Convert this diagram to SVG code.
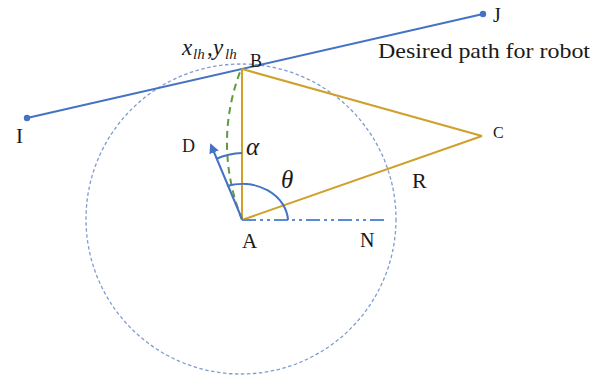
<svg xmlns="http://www.w3.org/2000/svg" width="603" height="376" viewBox="0 0 603 376">
<defs>
<style>
.lbl{font-family:"Liberation Serif","Times New Roman",serif;fill:#1a1a1a}
.it{font-style:italic}
.path{stroke:#4472C4;stroke-width:2;fill:none}
.tri{stroke:#CFA02A;stroke-width:2;fill:none}
.blue{stroke:#4472C4;stroke-width:2;fill:none}
</style>
<marker id="arr" viewBox="0 0 10 10" refX="8" refY="5" markerWidth="5" markerHeight="5" orient="auto-start-reverse" markerUnits="strokeWidth">
<path d="M0,0 L10,5 L0,10 z" fill="#4472C4"/>
</marker>
</defs>
<rect width="603" height="376" fill="#ffffff"/>
<g id="circle">
<circle cx="241" cy="219" r="155" fill="none" stroke="#7F9BD0" stroke-width="1.3" stroke-dasharray="3.5 2.5"/>
</g>
<g id="connectors">
<line class="path" x1="27" y1="118" x2="483" y2="14"/>
<circle cx="27" cy="118" r="3.2" fill="#4472C4"/>
<circle cx="483" cy="14" r="3.2" fill="#4472C4"/>
<line class="tri" x1="242" y1="69" x2="242" y2="220"/>
<line class="tri" x1="242" y1="69" x2="482" y2="136"/>
<line class="tri" x1="242" y1="220" x2="482" y2="136"/>
<path d="M242,220 Q213,145 240,72" fill="none" stroke="#5E9B3A" stroke-width="2" stroke-dasharray="7 5"/>
<line x1="242" y1="220" x2="387" y2="220" stroke="#5B8BD6" stroke-width="2" stroke-dasharray="14 4 3 4 3 4"/>
<line class="blue" x1="242" y1="219" x2="211" y2="145" marker-end="url(#arr)"/>
<path class="blue" d="M216,159 A67,67 0 0 1 242,153" stroke-width="1.8"/>
<path class="blue" d="M227,186 A46,38 0 0 1 288,220" stroke-width="1.8"/>
</g>
<g id="labels">
<text class="lbl" x="16" y="143" font-size="21">I</text>
<text class="lbl" x="493" y="22" font-size="20">J</text>
<text class="lbl" x="378" y="58" font-size="22" textLength="212" lengthAdjust="spacingAndGlyphs">Desired path for robot</text>
<text class="lbl" x="250" y="67" font-size="18">B</text>
<text class="lbl" y="55" font-size="23"><tspan class="it" x="182">x</tspan><tspan class="it" x="193" dy="4" font-size="15">lh</tspan><tspan x="207" dy="-4">,</tspan><tspan class="it" x="213">y</tspan><tspan class="it" x="225" dy="4" font-size="15">lh</tspan></text>
<text class="lbl" x="182" y="152" font-size="18">D</text>
<text class="lbl it" x="246" y="155" font-size="25">α</text>
<text class="lbl it" x="281" y="188" font-size="25">θ</text>
<text class="lbl" x="242" y="248" font-size="21">A</text>
<text class="lbl" x="360" y="247" font-size="20">N</text>
<text class="lbl" x="412" y="188" font-size="22">R</text>
<text class="lbl" x="493" y="138" font-size="16">C</text>
</g>
</svg>
